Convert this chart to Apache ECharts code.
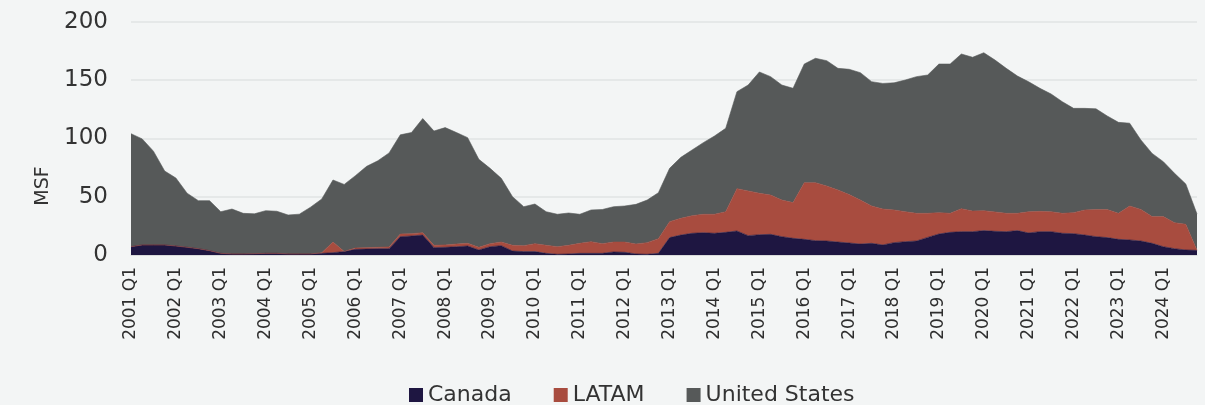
<!DOCTYPE html>
<html>
<head>
<meta charset="utf-8">
<script src="https://cdn.jsdelivr.net/npm/echarts@6/dist/echarts.min.js"></script>
<style>
html,body{margin:0;padding:0;background:#f3f5f5;}
#chart{width:1205px;height:405px;}
</style>
</head>
<body>
<div id="chart"></div>
<script>
const years = [2001,2002,2003,2004,2005,2006,2007,2008,2009,2010,2011,2012,2013,2014,2015,2016,2017,2018,2019,2020,2021,2022,2023,2024];
const quarters = ['Q1','Q2','Q3','Q4'];
const seriesNames = ['Canada','LATAM','United States'];
const yTicks = [0,50,100,150,200];

const canada = [7.1,8.6,8.6,8.6,7.7,6.6,5.4,3.7, 1.4,0.9,0.9,1.1,1.4,1.4,0.9,0.9,
  0.9,1.4,2,2.9,4.9,5.1,5.4,5.4, 15.7,16.3,17.1,6.3,6.6,7.1,7.7,4.3,
  7.1,8,3.4,2.9,2.9,1.4,0.6,0.9, 1.4,1.4,1.4,2.6,2.3,0.9,0.6,1.4,
  14.9,17.1,18.6,19.1,18.6,19.4,20.6,16.6, 17.4,17.7,15.7,14.3,13.4,12.3,12,11.1,
  10.3,9.4,10,8.6,10.6,11.4,12,15.1, 18,19.4,20,20,20.9,20.3,20,20.9,
  18.9,20,20,18.6,18.3,17.1,15.7,14.9, 13.4,12.9,12,10,7.1,5.4,4.3,4];

const latam = [0,0,0,0,0,0,0,0, 0,0,0,0,0,0,0,0,
  0,0.5,9.1,0.2,1.1,1.2,1.2,1.5, 2.3,2,2,2,2,2.3,2.3,2.3,
  2.6,3.1,4.9,5.1,6.8,6.9,6.5,7.4, 8.6,10,8.3,8.5,8.8,8.5,10,12.6,
  13.7,14.3,15.1,15.8,16.3,17.7,36.3,38.3, 35.5,33.7,31.4,30.6,48.6,49.7,47.1,44.6,
  41.5,37.7,32,30.8,28,25.7,23.7,20.6, 18.3,16.3,19.7,17.7,17.1,16.6,15.7,14.8,
  18.2,17.4,17.1,17.1,18,21.5,23.2,24, 22.3,29.1,27.1,22.9,25.8,22.3,22,0];

const unitedStates = [96.9,90.9,80.4,63.4,58.3,46.4,41.2,42.9, 35.7,38.5,34.8,34.2,36.6,36.1,33.4,34.1,
  40.1,46.1,53.2,57.4,62,69.7,74.2,80.6, 85,86.7,97.9,98,100.6,95.6,90.6,75.4,
  64.6,54.6,41.7,33.4,34,28.8,27.8,27.7, 24.9,27.2,29.3,30.3,30.9,34,36.5,39.4,
  45.7,52.3,56.3,61.4,67.1,71.5,83.1,90.8, 104,101.5,98.6,98,101.7,106.6,107.5,104.3,
  107.4,109.2,106.6,107.7,109,112.9,117.2,118.6, 127.4,128,132.6,131.8,135.4,130.2,124.3,117.7,
  111.4,105.5,100.9,95.7,89.4,87.1,86.4,80.3, 78,71,59.5,54.2,47.1,42.3,34.6,31.1];

const categories = [];
years.forEach(y => quarters.forEach(q => categories.push(y + ' ' + q)));

const colors = ['#1e1641', '#a84c3f', '#565959'];
const font = 'DejaVu Sans';

const chart = echarts.init(document.getElementById('chart'));
const dataSets = [canada, latam, unitedStates];
chart.setOption({
  backgroundColor: '#f3f5f5',
  animation: false,
  color: colors,
  grid: {left: 131, right: 8, top: 21.7, bottom: 150},
  legend: {
    data: seriesNames,
    left: 404, top: 379,
    icon: 'rect', itemWidth: 14, itemHeight: 14, itemGap: 42,
    textStyle: {fontFamily: font, fontSize: 22, color: '#333'}
  },
  graphic: [{
    type: 'text', x: 43, y: 186, rotation: Math.PI / 2,
    style: {text: 'MSF', fontFamily: font, fontSize: 19, fill: '#333', align: 'center', verticalAlign: 'middle'}
  }],
  xAxis: {
    type: 'category', data: categories, boundaryGap: false,
    axisLine: {show: true, lineStyle: {color: '#d9dbdb'}},
    axisTick: {show: false},
    axisLabel: {interval: 3, rotate: 90, fontFamily: font, fontSize: 17, color: '#2e2e2e', margin: 12}
  },
  yAxis: {
    type: 'value', min: yTicks[0], max: yTicks[yTicks.length - 1], interval: 50,
    axisLine: {show: false}, axisTick: {show: false},
    axisLabel: {fontFamily: font, fontSize: 23, color: '#333', margin: 23},
    splitLine: {lineStyle: {color: '#e1e3e3', width: 1.5}}
  },
  series: seriesNames.map((n, k) => ({
    name: n, type: 'line', stack: 'total', data: dataSets[k],
    symbol: 'none', lineStyle: {width: 0.6, color: colors[k]},
    areaStyle: {color: colors[k], opacity: 1}
  }))
});
</script>
</body>
</html>
